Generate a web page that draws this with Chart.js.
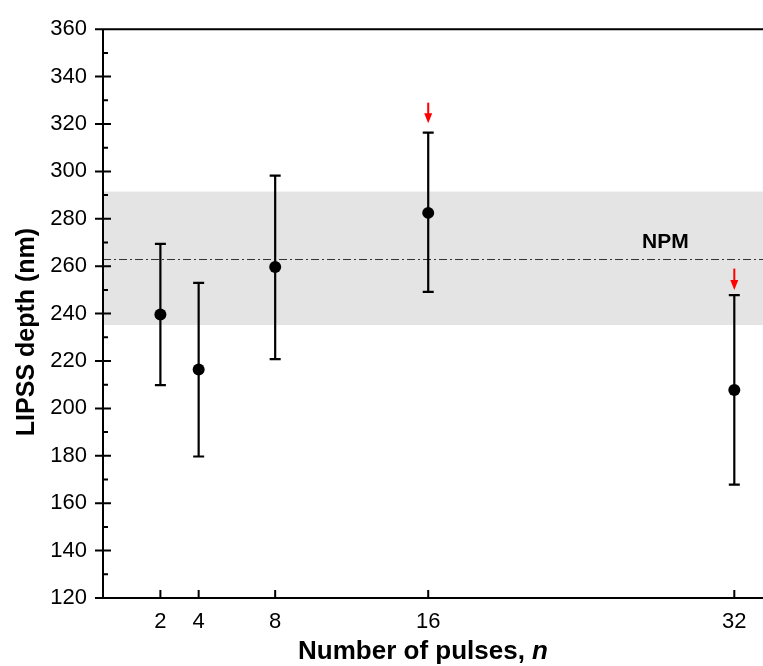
<!DOCTYPE html>
<html>
<head>
<meta charset="utf-8">
<script src="https://cdn.jsdelivr.net/npm/chart.js@4"></script>
<style>
  html, body { margin: 0; padding: 0; background: #fff; }
  canvas { display: block; }
</style>
</head>
<body>
<canvas id="chart" width="763" height="666"></canvas>
<script>
// data
const pulses = [2, 4, 8, 16, 32];
const depth = [239.6, 216.4, 259.7, 282.5, 207.8];
const depthHigh = [269.4, 253.0, 298.2, 316.4, 247.8];
const depthLow = [209.8, 179.7, 220.8, 249.2, 167.8];

const xTicks = [2, 4, 8, 16, 32];

// NPM reference band
const npmMean = 263;
const npmLow = 235.2;
const npmHigh = 291.5;

// red arrows (start value -> tip value)
const arrowX = [16, 32];
const arrowFrom = [329, 259];
const arrowTo = [320.3, 250];

const FONT = '"Liberation Sans", Arial, sans-serif';

const figurePlugin = {
    id: 'figure',
    beforeDraw(chart) {
        const { ctx, chartArea: a, scales: { y } } = chart;
        const top = y.getPixelForValue(npmHigh);
        const bot = y.getPixelForValue(npmLow);
        ctx.save();
        ctx.fillStyle = '#e4e4e4';
        ctx.fillRect(a.left, top, a.right - a.left, bot - top);
        ctx.restore();
    },
    beforeDatasetsDraw(chart) {
        const { ctx, chartArea: a, scales: { x, y } } = chart;
        ctx.save();
        // NPM mean, dash-dot
        const yn = Math.round(y.getPixelForValue(npmMean)) + 0.5;
        ctx.strokeStyle = '#333';
        ctx.lineWidth = 1;
        ctx.setLineDash([8, 3, 2, 3]);
        ctx.beginPath();
        ctx.moveTo(a.left, yn);
        ctx.lineTo(a.right, yn);
        ctx.stroke();
        ctx.setLineDash([]);

        // error bars
        ctx.strokeStyle = '#000';
        ctx.lineWidth = 2.2;
        pulses.forEach((n, i) => {
            const px = x.getPixelForValue(n);
            const hi = y.getPixelForValue(depthHigh[i]);
            const lo = y.getPixelForValue(depthLow[i]);
            ctx.beginPath();
            ctx.moveTo(px, hi);
            ctx.lineTo(px, lo);
            ctx.moveTo(px - 5.5, hi);
            ctx.lineTo(px + 5.5, hi);
            ctx.moveTo(px - 5.5, lo);
            ctx.lineTo(px + 5.5, lo);
            ctx.stroke();
        });
        ctx.restore();
    },
    afterDatasetsDraw(chart) {
        const { ctx, scales: { x, y } } = chart;
        ctx.save();
        // NPM label
        ctx.fillStyle = '#000';
        ctx.font = 'bold 21px ' + FONT;
        ctx.textAlign = 'center';
        ctx.textBaseline = 'alphabetic';
        ctx.fillText('NPM', x.getPixelForValue(28.4), y.getPixelForValue(npmMean) - 11);

        // red arrows
        ctx.fillStyle = '#ff0000';
        ctx.strokeStyle = '#ff0000';
        arrowX.forEach((n, i) => {
            const px = x.getPixelForValue(n);
            const y0 = y.getPixelForValue(arrowFrom[i]);
            const y1 = y.getPixelForValue(arrowTo[i]);
            ctx.lineWidth = 2;
            ctx.beginPath();
            ctx.moveTo(px, y0);
            ctx.lineTo(px, y1 - 6);
            ctx.stroke();
            ctx.beginPath();
            ctx.moveTo(px - 4, y1 - 10);
            ctx.lineTo(px + 4, y1 - 10);
            ctx.lineTo(px, y1);
            ctx.closePath();
            ctx.fill();
        });
        ctx.restore();
    },
    afterDraw(chart) {
        const { ctx, chartArea: a, scales: { x, y } } = chart;
        ctx.save();
        ctx.strokeStyle = '#000';
        ctx.lineWidth = 2;
        ctx.beginPath();
        // axes + top frame line
        ctx.moveTo(a.left, a.top);
        ctx.lineTo(a.left, a.bottom);
        ctx.moveTo(a.left - 8, a.bottom);
        ctx.lineTo(a.right, a.bottom);
        ctx.moveTo(a.left - 8, a.top);
        ctx.lineTo(a.right, a.top);
        // y ticks, major crossing, minor inside
        y.ticks.forEach(t => {
            const py = y.getPixelForValue(t.value);
            ctx.moveTo(a.left - 8, py);
            ctx.lineTo(a.left + 8, py);
            const pm = y.getPixelForValue(t.value + 10);
            if (t.value + 10 < y.max) {
                ctx.moveTo(a.left, pm);
                ctx.lineTo(a.left + 5, pm);
            }
        });
        // x ticks, inside
        x.ticks.forEach(t => {
            const px = x.getPixelForValue(t.value);
            ctx.moveTo(px, a.bottom);
            ctx.lineTo(px, a.bottom - 8);
        });
        ctx.stroke();

        // axis titles
        ctx.fillStyle = '#000';
        ctx.textBaseline = 'alphabetic';
        const t1 = 'Number of pulses, ';
        const t2 = 'n';
        ctx.font = 'bold 26px ' + FONT;
        const w1 = ctx.measureText(t1).width;
        ctx.font = 'italic bold 26px ' + FONT;
        const w2 = ctx.measureText(t2).width;
        let sx = 423 - (w1 + w2) / 2;
        ctx.font = 'bold 26px ' + FONT;
        ctx.textAlign = 'left';
        ctx.fillText(t1, sx, 659);
        ctx.font = 'italic bold 26px ' + FONT;
        ctx.fillText(t2, sx + w1, 659);

        ctx.translate(34, 332);
        ctx.rotate(-Math.PI / 2);
        ctx.font = 'bold 25px ' + FONT;
        ctx.textAlign = 'center';
        ctx.fillText('LIPSS depth (nm)', 0, 0);
        ctx.restore();
    }
};

const ctx = document.getElementById('chart').getContext('2d');
new Chart(ctx, {
    type: 'scatter',
    data: {
        datasets: [{
            label: 'LIPSS depth',
            data: pulses.map((n, i) => ({ x: n, y: depth[i] })),
            backgroundColor: '#000',
            borderColor: '#000',
            pointRadius: 6,
            pointHoverRadius: 6,
            pointBorderWidth: 0
        }]
    },
    options: {
        responsive: false,
        animation: false,
        events: [],
        layout: {
            autoPadding: false,
            padding: { top: 26, left: 0, right: 0, bottom: 0 }
        },
        scales: {
            x: {
                type: 'linear',
                min: -1,
                max: 33.5,
                afterBuildTicks: scale => {
                    scale.ticks = xTicks.map(v => ({ value: v }));
                },
                afterFit: scale => {
                    scale.height = 68;
                    scale.paddingLeft = 0;
                    scale.paddingRight = 0;
                },
                grid: { display: false, drawTicks: false },
                border: { display: false },
                ticks: {
                    color: '#000',
                    padding: 11,
                    maxRotation: 0,
                    font: { family: FONT, size: 22 }
                }
            },
            y: {
                min: 120,
                max: 360,
                afterFit: scale => { scale.width = 103; },
                grid: { display: false, drawTicks: false },
                border: { display: false },
                ticks: {
                    stepSize: 20,
                    color: '#000',
                    padding: 16,
                    font: { family: FONT, size: 22 }
                }
            }
        },
        plugins: {
            legend: { display: false },
            tooltip: { enabled: false }
        }
    },
    plugins: [figurePlugin]
});
</script>
</body>
</html>
